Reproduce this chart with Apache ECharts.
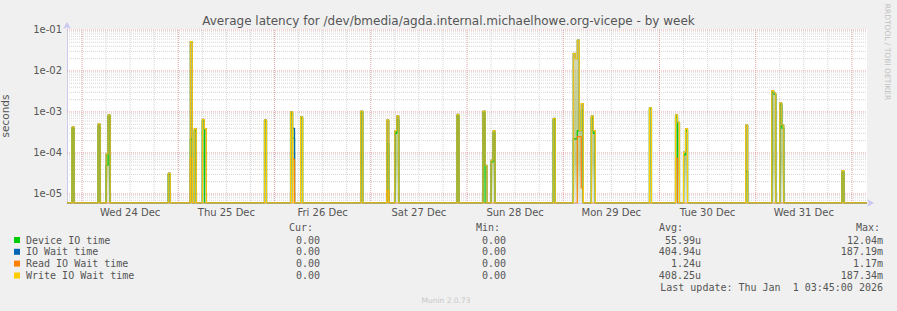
<!DOCTYPE html>
<html><head><meta charset="utf-8">
<script src="https://cdn.jsdelivr.net/npm/echarts@6/dist/echarts.min.js"></script>
<style>html,body{margin:0;padding:0;background:#f0f0f0;}#c{width:897px;height:311px;}</style>
</head><body><div id="c"></div>
<script>
// ---- data (seconds; 0 = no latency) ----
const times = [
 '2025-12-23 20:15','2025-12-23 21:30','2025-12-23 22:00',
 '2025-12-24 04:00','2025-12-24 04:30','2025-12-24 06:00','2025-12-24 06:30','2025-12-24 07:00',
 '2025-12-24 21:30','2025-12-24 22:00',
 '2025-12-25 03:00','2025-12-25 03:30','2025-12-25 04:00','2025-12-25 04:30',
 '2025-12-25 06:00','2025-12-25 06:30','2025-12-25 07:00','2025-12-25 21:30','2025-12-25 22:00',
 '2025-12-26 04:00','2025-12-26 04:30','2025-12-26 05:00','2025-12-26 06:30','2025-12-26 07:00',
 '2025-12-26 21:30','2025-12-26 22:00',
 '2025-12-27 04:00','2025-12-27 04:30','2025-12-27 06:00','2025-12-27 06:30','2025-12-27 07:00',
 '2025-12-27 21:30','2025-12-27 22:00',
 '2025-12-28 04:00','2025-12-28 04:30','2025-12-28 05:00','2025-12-28 06:00','2025-12-28 06:30','2025-12-28 07:00',
 '2025-12-28 21:30','2025-12-28 22:00',
 '2025-12-29 02:30','2025-12-29 03:00','2025-12-29 03:30','2025-12-29 04:00','2025-12-29 04:30','2025-12-29 05:00',
 '2025-12-29 07:00','2025-12-29 07:30','2025-12-29 08:00','2025-12-29 21:30','2025-12-29 22:00',
 '2025-12-30 04:00','2025-12-30 04:30','2025-12-30 05:00','2025-12-30 06:00','2025-12-30 06:30','2025-12-30 07:00',
 '2025-12-30 21:30','2025-12-30 22:00',
 '2025-12-31 04:00','2025-12-31 04:30','2025-12-31 05:00','2025-12-31 06:00','2025-12-31 06:30','2025-12-31 07:00',
 '2025-12-31 21:30','2025-12-31 22:00','2026-01-01 03:45'
];
const deviceIO = [
 0,4.0e-4,0,
 4.6e-4,0,5e-5,8e-4,0,
 3e-5,0,
 2.2e-4,0,3.5e-4,0,
 6e-4,0,0,6e-4,0,
 9e-4,2.3e-4,0,7e-4,0,
 1e-3,0,
 1.7e-4,0,3e-4,6.4e-4,0,
 8e-4,0,
 1e-3,0,0,6e-5,3e-4,0,
 6.5e-4,0,
 2.2e-4,2.2e-4,3.5e-4,3.5e-4,1.1e-3,0,
 7e-4,3e-4,0,1.2e-3,0,
 7.5e-4,0,0,9e-5,3.5e-4,0,
 3.6e-5,0,
 3e-3,2.7e-3,0,1.5e-3,4e-4,0,
 3.3e-5,0,0
];
const ioWait = [
 0,4.3e-4,0,
 5.1e-4,0,9.5e-5,8.5e-4,0,
 3.2e-5,0,
 5.2e-2,0,3.9e-4,0,
 6.6e-4,3.9e-4,0,6.4e-4,0,
 1e-3,4e-4,0,7.6e-4,0,
 1.05e-3,0,
 6.4e-4,0,3.5e-4,8e-4,0,
 8.7e-4,0,
 1.05e-3,5e-5,0,6.7e-5,3.5e-4,0,
 7e-4,0,
 2.7e-2,2e-2,5.7e-2,3.5e-4,1.6e-3,0,
 8e-4,3.5e-4,0,1.26e-3,0,
 8.5e-4,5.6e-4,0,1.05e-4,3.9e-4,0,
 4.8e-4,0,
 3.3e-3,2.9e-3,0,1.66e-3,4.8e-4,0,
 3.7e-5,0,0
];
const readWait = [
 0,0,0,
 0,0,0,0,0,
 0,0,
 7.5e-5,0,0,0,
 0,0,0,0,0,
 0,7e-5,0,0,0,
 0,0,
 1.2e-5,0,0,0,0,
 0,0,
 0,0,0,0,0,0,
 0,0,
 0,0,2.5e-4,2.5e-4,1.4e-5,0,
 0,0,0,0,0,
 7.4e-5,0,0,0,0,0,
 0,0,
 0,0,0,0,0,0,
 0,0,0
];
const writeWait = [
 0,4.3e-4,0,
 5.1e-4,0,9.5e-5,8.5e-4,0,
 3.2e-5,0,
 5.2e-2,0,3.9e-4,0,
 6.6e-4,3.9e-4,0,6.4e-4,0,
 1e-3,0,0,7.6e-4,0,
 1.05e-3,0,
 6.4e-4,0,3.5e-4,8e-4,0,
 8.7e-4,0,
 1.05e-3,5e-5,0,6.7e-5,3.5e-4,0,
 7e-4,0,
 2.7e-2,2e-2,5.7e-2,3.5e-4,1.6e-3,0,
 8e-4,3.5e-4,0,1.26e-3,0,
 8.5e-4,5.6e-4,0,1.05e-4,3.9e-4,0,
 4.8e-4,0,
 3.3e-3,2.9e-3,0,1.66e-3,4.8e-4,0,
 3.7e-5,0,0
];
const seriesNames = ['Device IO time','IO Wait time','Read IO Wait time','Write IO Wait time'];
const seriesColors = ['#00cc00','#0066b3','#ff8000','#ffcc00'];
const statCur = ['0.00','0.00','0.00','0.00'];
const statMin = ['0.00','0.00','0.00','0.00'];
const statAvg = ['55.99u','404.94u','1.24u','408.25u'];
const statMax = ['12.04m','187.19m','1.17m','187.34m'];
const dayLabels = ['Wed 24 Dec','Thu 25 Dec','Fri 26 Dec','Sat 27 Dec','Sun 28 Dec','Mon 29 Dec','Tue 30 Dec','Wed 31 Dec'];
const dayNoons = ['2025-12-24 12:00','2025-12-25 12:00','2025-12-26 12:00','2025-12-27 12:00','2025-12-28 12:00','2025-12-29 12:00','2025-12-30 12:00','2025-12-31 12:00'];
const yTickValues = [1e-5,1e-4,1e-3,1e-2,1e-1];
const yTickLabels = ['1e-05','1e-04','1e-03','1e-02','1e-01'];
const xStart = '2025-12-23 20:15', xEnd = '2026-01-01 03:45';
const yMinVal = 6.0e-6, yMaxVal = 1.057e-1;

// ---- helpers ----
function ts(s){return Date.UTC(+s.slice(0,4),+s.slice(5,7)-1,+s.slice(8,10),+s.slice(11,13),+s.slice(14,16));}
const yMin = Math.log10(yMinVal), yMax = Math.log10(yMaxVal);
const ly = v => v > 0 ? Math.log10(v) : yMin;
const pairs = arr => times.map((t,i)=>[ts(t), ly(arr[i])]);
const xMin = ts(xStart), xMax = ts(xEnd);
const xMid = (xMin + xMax) / 2, yMid = (yMin + yMax) / 2;

// grid lines as broken polylines (segments separated by empty points)
const gMinor = [], gMajor = [];
for (let d=-6; d<=-1; d++){
  for (let m=1; m<=9; m++){
    const l = Math.log10(m*Math.pow(10,d));
    if (l < yMin || l > yMax) continue;
    (m===1 ? gMajor : gMinor).push([xMin, l], [xMax, l], ['-','-']);
  }
}
const day0 = ts('2025-12-24 00:00');
for (let t = day0; t < xMax; t += 6*3600e3){
  if (t <= xMin) continue;
  (((t - day0) % (24*3600e3)) === 0 ? gMajor : gMinor).push([t, yMin], [t, yMax], ['-','-']);
}
const txt = '#555';

const chart = echarts.init(document.getElementById('c'), null, {renderer:'svg'});
const lineSeries = seriesNames.map((n,i)=>({
  name:n, type:'line', step:'end', data:pairs([deviceIO,ioWait,readWait,writeWait][i]),
  symbol:'none', lineStyle:{color:seriesColors[i], width:1.2}, z:5+i, animation:false, silent:true
}));
const option = {
  animation:false,
  backgroundColor:'#f0f0f0',
  title:{text:'Average latency for /dev/bmedia/agda.internal.michaelhowe.org-vicepe - by week',
    left:'center', top:10, textStyle:{fontFamily:'DejaVu Sans', fontSize:12, fontWeight:'normal', color:txt}},
  grid:{left:67, top:29, width:800, height:174, show:true, backgroundColor:'#ffffff', borderWidth:0,
    containLabel:false, outerBoundsMode:'none'},
  xAxis:{type:'value', min:xMin, max:xMax, axisLabel:{show:false}, axisTick:{show:false},
    splitLine:{show:false}, minorSplitLine:{show:false},
    axisLine:{onZero:false, lineStyle:{color:'#c8c8f0'}, symbol:['none','arrow'], symbolSize:[6,7], symbolOffset:[0,7]}},
  yAxis:{type:'value', min:yMin, max:yMax, name:'seconds', nameLocation:'middle', nameGap:57,
    nameTextStyle:{fontFamily:'DejaVu Sans', fontSize:10.5, color:txt},
    axisLabel:{show:false}, axisTick:{show:false}, splitLine:{show:false}, minorSplitLine:{show:false},
    axisLine:{lineStyle:{color:'#c8c8f0'}, symbol:['none','arrow'], symbolSize:[6,7], symbolOffset:[0,7]}},
  series:[
    {type:'line', data:gMinor, symbol:'none', connectNulls:false, silent:true, z:1,
      lineStyle:{color:'#d6d6d6', width:1, type:[1,1]}},
    {type:'line', data:gMajor, symbol:'none', connectNulls:false, silent:true, z:2,
      lineStyle:{color:'#e6a2a2', width:1, type:[1,1]}},
    {type:'line', data:[[xMid,yMid]], symbol:'none', lineStyle:{width:0}, z:3, silent:true,
      markLine:{silent:true, symbol:['none','none'], animation:false, lineStyle:{color:'rgba(0,0,0,0)', width:1, type:'solid'},
        label:{show:true, position:'start', color:txt, fontFamily:'DejaVu Sans', fontSize:10, distance:5},
        data: yTickValues.map((v,i)=>({yAxis:Math.log10(v), label:{formatter:yTickLabels[i]}}))
          .concat(dayNoons.map((d,i)=>({xAxis:ts(d), label:{formatter:dayLabels[i], distance:4}})))}},
    {name:'fill', type:'line', step:'end', data:pairs(ioWait), symbol:'none', lineStyle:{width:0}, z:4, silent:true,
      areaStyle:{origin:'start', color:new echarts.graphic.LinearGradient(0,0,0,1,[
        {offset:0, color:'rgba(190,190,125,0.8)'},
        {offset:0.4, color:'rgba(155,170,80,0.85)'},
        {offset:0.75, color:'rgba(145,175,70,0.85)'},
        {offset:1, color:'rgba(210,225,220,0.7)'}])}}
  ].concat(lineSeries),
  graphic:[]
};
const g = option.graphic;
const mono = '10px "DejaVu Sans Mono"';
const rowY = [240, 251.8, 263.6, 275.5];
g.push({type:'text', x:313, y:227.5, style:{text:'Cur:', font:mono, fill:txt, align:'right', verticalAlign:'middle'}});
g.push({type:'text', x:500, y:227.5, style:{text:'Min:', font:mono, fill:txt, align:'right', verticalAlign:'middle'}});
g.push({type:'text', x:683, y:227.5, style:{text:'Avg:', font:mono, fill:txt, align:'right', verticalAlign:'middle'}});
g.push({type:'text', x:880, y:227.5, style:{text:'Max:', font:mono, fill:txt, align:'right', verticalAlign:'middle'}});
seriesNames.forEach((n,i)=>{
  g.push({type:'rect', shape:{x:14, y:rowY[i]-3, width:6, height:6}, style:{fill:seriesColors[i]}});
  g.push({type:'text', x:26, y:rowY[i], style:{text:n, font:mono, fill:txt, verticalAlign:'middle'}});
  g.push({type:'text', x:320, y:rowY[i], style:{text:statCur[i], font:mono, fill:txt, align:'right', verticalAlign:'middle'}});
  g.push({type:'text', x:506, y:rowY[i], style:{text:statMin[i], font:mono, fill:txt, align:'right', verticalAlign:'middle'}});
  g.push({type:'text', x:701, y:rowY[i], style:{text:statAvg[i], font:mono, fill:txt, align:'right', verticalAlign:'middle'}});
  g.push({type:'text', x:883, y:rowY[i], style:{text:statMax[i], font:mono, fill:txt, align:'right', verticalAlign:'middle'}});
});
g.push({type:'text', x:883, y:287.5, style:{text:'Last update: Thu Jan  1 03:45:00 2026', font:mono, fill:txt, align:'right', verticalAlign:'middle'}});
g.push({type:'text', x:446, y:300, style:{text:'Munin 2.0.73', font:'7.5px "DejaVu Sans"', fill:'#c8c8c8', align:'center', verticalAlign:'middle'}});
g.push({type:'text', x:887, y:52, rotation:-Math.PI/2, style:{text:'RRDTOOL / TOBI OETIKER', font:'7.5px "DejaVu Sans"', fill:'#c0c0c0', align:'center', verticalAlign:'middle'}});
chart.setOption(option);
</script></body></html>
